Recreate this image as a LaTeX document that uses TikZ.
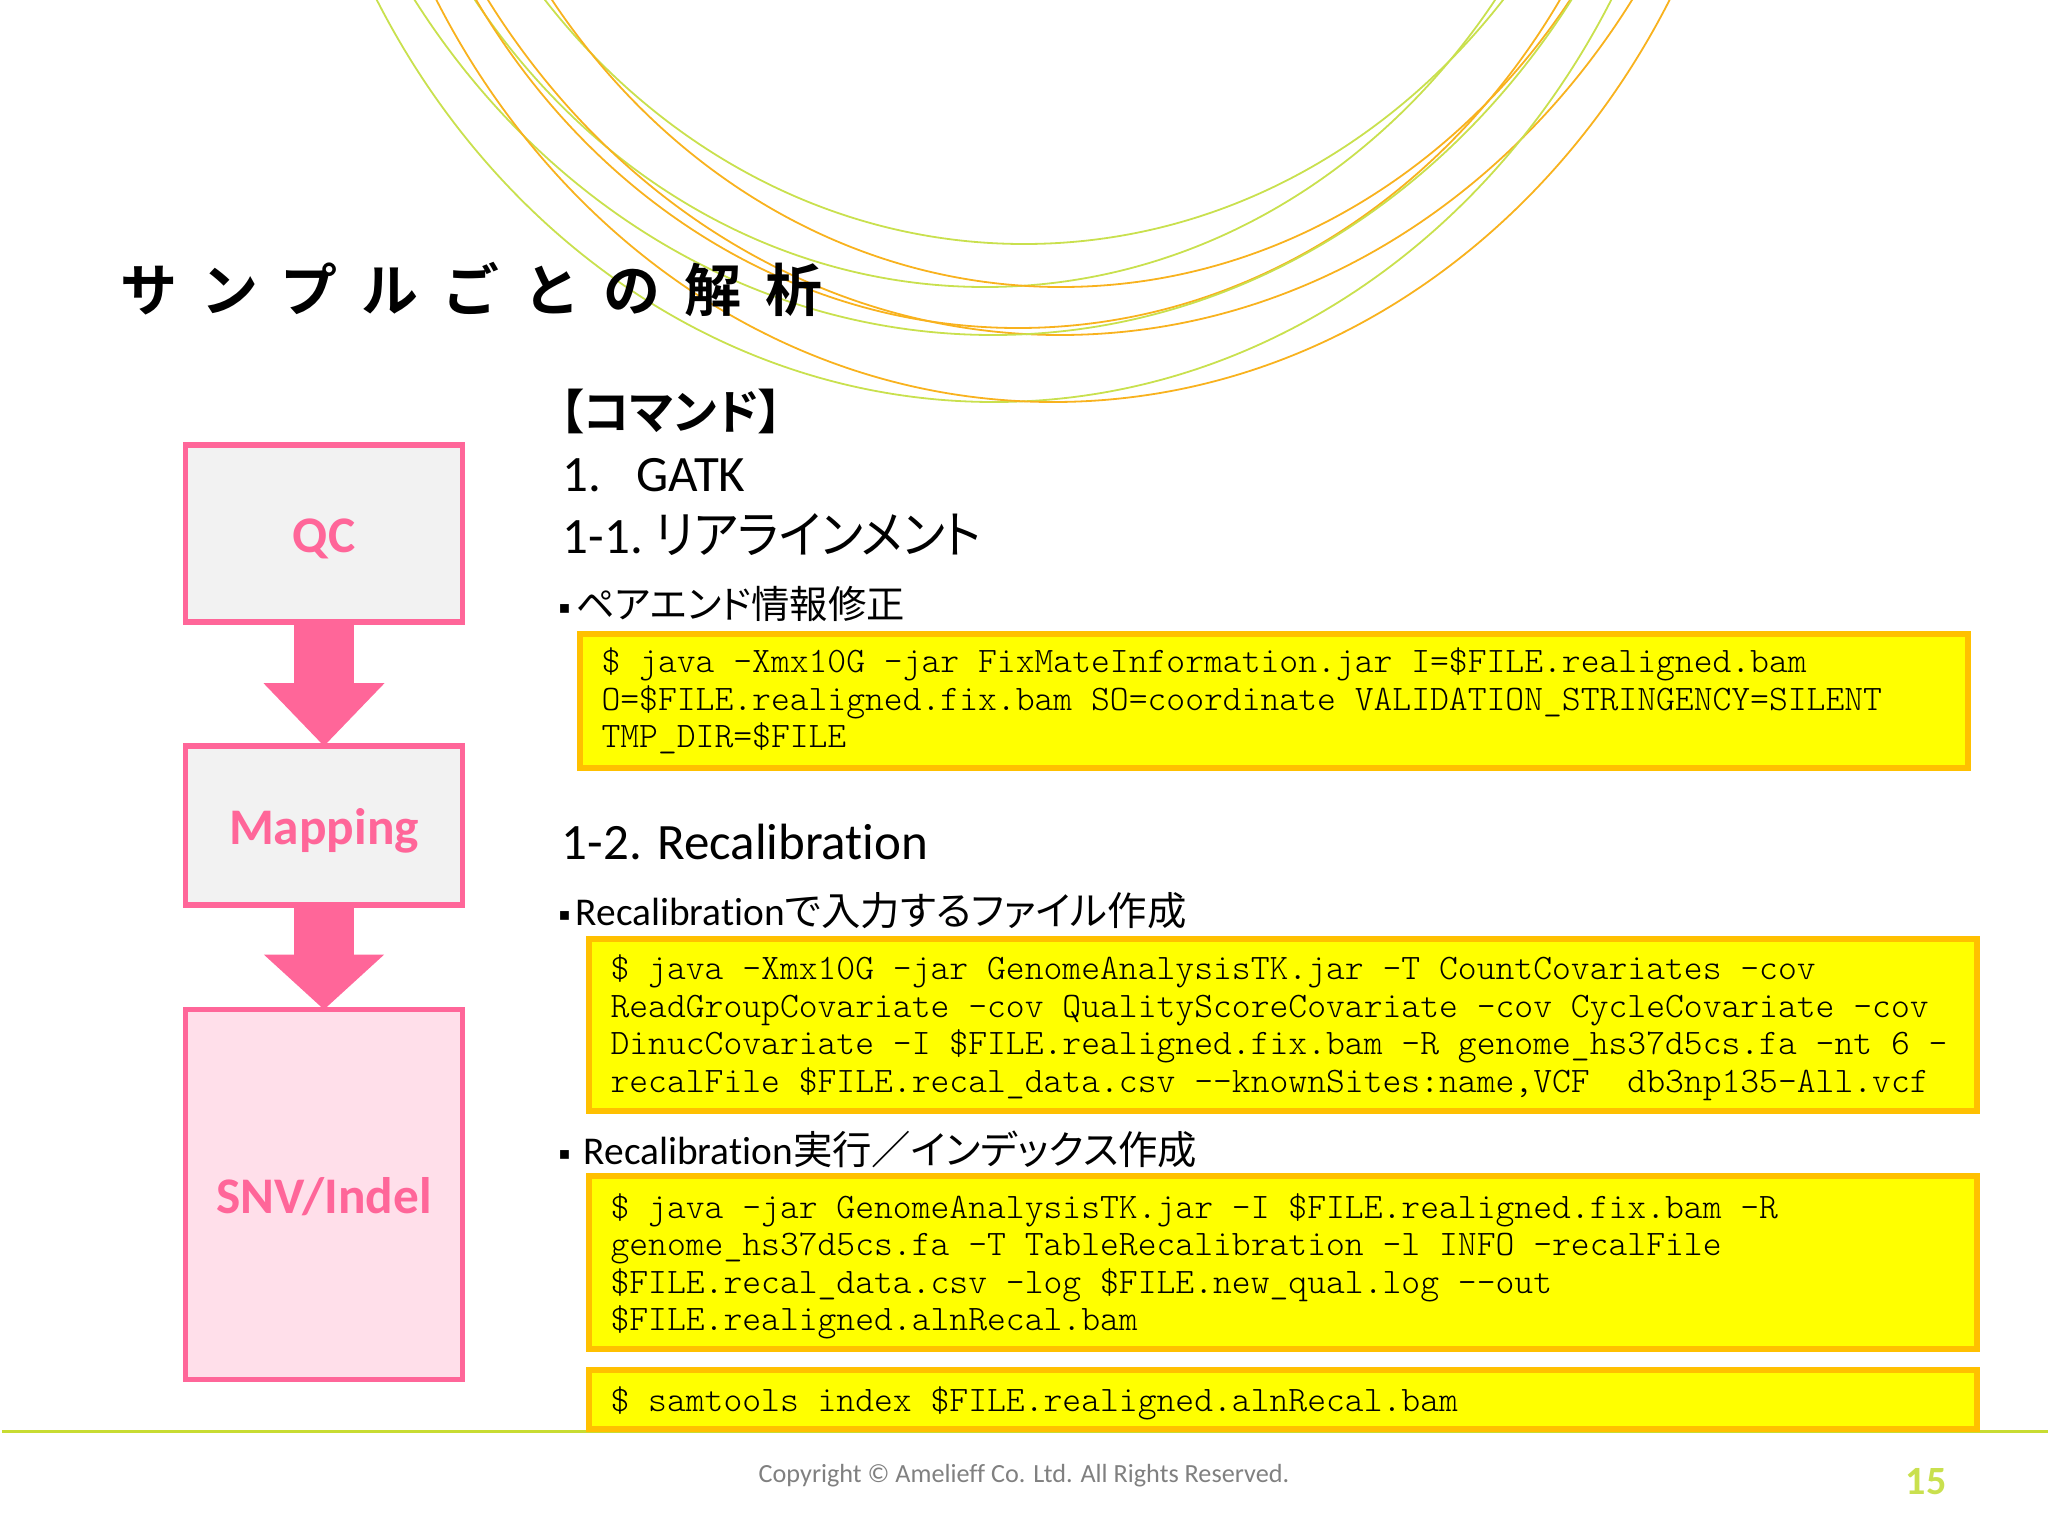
\documentclass[tikz,border=0pt]{standalone}
\usepackage{fontspec}
\usepackage{tikz}
\usetikzlibrary{arrows.meta}
\setmainfont[Ligatures=NoCommon]{Carlito}
\setmonofont{Latin Modern Mono Light}
\newfontfamily\jpfont[RawFeature=+palt,BoldFont={Noto Sans CJK JP Bold}]{Noto Sans CJK JP}
\newfontfamily\jpnarrow[RawFeature=+palt,FakeStretch=0.93]{Noto Sans CJK JP}
\newfontfamily\titlefont[LetterSpace=42]{Noto Sans CJK JP Bold}
\newfontfamily\bulletfont{DejaVu Sans}
\definecolor{curvegreen}{HTML}{C9E04E}
\definecolor{curveorange}{HTML}{F8B21E}
\definecolor{flowpink}{HTML}{FF6699}
\definecolor{flowgray}{HTML}{F2F2F2}
\definecolor{flowrose}{HTML}{FFDFEA}
\definecolor{codegold}{HTML}{FFC000}
\definecolor{codeyellow}{HTML}{FFFF00}
\definecolor{footgreen}{HTML}{C8DC32}
\newcommand{\sqbullet}{\makebox[0.17cm][l]{\raisebox{0.05cm}{\bulletfont\fontsize{5}{5}\selectfont\symbol{"25AA}}}}
\newcommand{\codedrop}[1]{\rule{0pt}{#1}}
\tikzset{
    flowbox/.style={draw=flowpink, line width=0.055cm, minimum width=2.765cm, text=flowpink,
        text height=0.37cm, text depth=0pt, font=\fontsize{14.6}{16}\selectfont\bfseries},
    bigarrow/.style={draw=flowpink, line width=0.6cm, shorten >=-0.03cm,
        -{Triangle[width=1.17cm,length=#1,fill=flowpink]}},
    codebox/.style={draw=codegold, fill=codeyellow, line width=0.06cm, anchor=north west, align=left,
        text width=13.44cm, inner xsep=0.215cm, inner ysep=0pt,
        font=\ttfamily\fontsize{10.2}{10.7}\selectfont,
        execute at begin node={\spaceskip=5.355pt\relax}},
    headtext/.style={anchor=base west, inner sep=0pt, font=\fontsize{14.5}{16}\selectfont},
    subtext/.style={anchor=base west, inner sep=0pt, font=\fontsize{11.2}{13}\selectfont}
}

\begin{document}
\begin{tikzpicture}[x=0.01cm, y=-0.01cm]
    \useasboundingbox (0,0) rectangle (2048,1536);

    % Draw the arcs at the top of the slide
    \begin{scope}
        \clip (0,0) rectangle (2048,1536);
        \foreach \cx/\by/\radx/\rady/\col in {
            1024/244/637/716/curvegreen, 985/287/637/716/curvegreen, 1061/287/635/714/curveorange,
            1018/328/649/730/curveorange, 1060/335/698/785/curveorange, 993/335/710/798/curvegreen,
            994/402/711/799/curvegreen, 1053/402/710/798/curveorange} {
            \draw[\col, line width=0.018cm] (\cx,{\by-\rady}) ellipse [x radius=\radx, y radius=\rady];
        }
    \end{scope}

    % Footer line
    \coordinate (footleft) at (2,1431);
    \coordinate (footright) at (2048,1431);
    \draw[footgreen, line width=0.03cm] (footleft) -- (footright);

    % Title
    \node[anchor=base west, inner sep=0pt, font=\fontsize{16.2}{18}\selectfont\titlefont] (title) at (120,311)
        {サンプルごとの解析};

    % Flow on the left
    \node[flowbox, fill=flowgray, minimum height=1.77cm] (qc) at (324,533.5) {QC};
    \node[flowbox, fill=flowgray, minimum height=1.59cm] (mapping) at (324,825.5) {Mapping};
    \node[flowbox, fill=flowrose, minimum height=3.7cm] (snv) at (324,1194.5) {SNV/Indel};
    \draw[bigarrow=0.63cm] (qc) -- (mapping);
    \draw[bigarrow=0.55cm] (mapping) -- (snv);

    % Headings
    \node[anchor=base west, inner sep=0pt, font=\fontsize{13.5}{15}\selectfont\bfseries\jpfont] (command) at (559,429) {【コマンド】};
    \node[headtext] (gatk) at (562,491) {1.\hspace{0.35cm}GATK};
    \node[headtext] (realign) at (562,553) {1-1.\hspace{0.12cm}{\jpnarrow リアラインメント}};
    \node[subtext] (pair) at (558,618) {\sqbullet{\fontsize{10.9}{13}\selectfont\jpfont ペアエンド情報修正}};
    \node[headtext] (recal) at (561,859) {1-2. Recalibration};
    \node[subtext] (input) at (558,925) {\sqbullet Recalibration{\jpfont で入力するファイル作成}};
    \node[subtext] (run) at (558,1164) {\sqbullet\hspace{0.08cm}Recalibration{\jpfont 実行／インデックス作成}};

    % Code boxes
    \node[codebox, minimum width=13.87cm, minimum height=1.34cm] (fixmate) at (577,631)
        {\$ java -Xmx10G -jar FixMateInformation.jar I=\$FILE.realigned.bam\\
         O=\$FILE.realigned.fix.bam SO=coordinate VALIDATION\_STRINGENCY=SILENT\\
         TMP\_DIR=\$FILE};
    \node[codebox, minimum width=13.87cm, minimum height=1.72cm] (covariates) at (586,936)
        {\codedrop{8.5pt}\$ java -Xmx10G -jar GenomeAnalysisTK.jar -T CountCovariates -cov\\
         ReadGroupCovariate -cov QualityScoreCovariate -cov CycleCovariate -cov\\
         DinucCovariate -I \$FILE.realigned.fix.bam -R genome\_hs37d5cs.fa -nt 6 -\\
         recalFile \$FILE.recal\_data.csv -{}-knownSites:name,VCF\ \ db3np135-All.vcf};
    \node[codebox, minimum width=13.87cm, minimum height=1.73cm] (table) at (586,1173)
        {\codedrop{9.2pt}\$ java -jar GenomeAnalysisTK.jar -I \$FILE.realigned.fix.bam -R\\
         genome\_hs37d5cs.fa -T TableRecalibration -l INFO -recalFile\\
         \$FILE.recal\_data.csv -log \$FILE.new\_qual.log -{}-out\\
         \$FILE.realigned.alnRecal.bam};
    \node[codebox, minimum width=13.87cm, minimum height=0.59cm] (index) at (586,1367)
        {\codedrop{9.2pt}\$ samtools index \$FILE.realigned.alnRecal.bam};

    % Footer text
    \node[anchor=base west, inner sep=0pt, text=gray, font=\fontsize{7.45}{9}\selectfont] (copyright) at (758,1482)
        {Copyright © Amelieff Co. Ltd. All Rights Reserved.};
    \node[anchor=base west, inner sep=0pt, text=curvegreen, font=\fontsize{11.4}{13}\selectfont\bfseries] (pagenum) at (1905,1494) {15};
\end{tikzpicture}
\end{document}
